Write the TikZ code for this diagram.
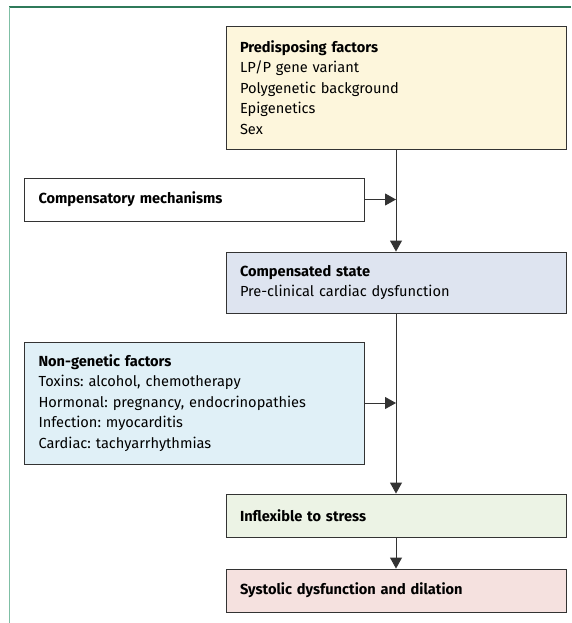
\documentclass[tikz,border=0pt]{standalone}
\usepackage{fontspec}
\setmainfont{Fira Sans}
\usepackage{xcolor}
\usetikzlibrary{arrows.meta}

\definecolor{framegreen}{HTML}{2F7A5A}
\definecolor{frameleft}{HTML}{7FBFA5}
\definecolor{boxline}{HTML}{333333}
\definecolor{preyellow}{HTML}{FDF6DC}
\definecolor{stategrey}{HTML}{DEE4F0}
\definecolor{envblue}{HTML}{E0F0F7}
\definecolor{stressgreen}{HTML}{ECF3E5}
\definecolor{failpink}{HTML}{F5E1DF}

\frenchspacing
\begin{document}
\begin{tikzpicture}[x=1pt, y=-1pt,
    box/.style={draw=boxline, line width=0.9pt, rectangle, align=left,
        inner xsep=14pt, inner ysep=0pt, text width=312pt,
        font=\fontsize{14.6}{20.5}\selectfont},
    flow/.style={draw=boxline, line width=0.9pt,
        -{Triangle[length=11pt,width=12pt]}}]
    \useasboundingbox (0,0) rectangle (571,623);

    \draw[framegreen, line width=1.2pt] (9,7) -- (571,7);
    \draw[frameleft, line width=1.8pt] (9.5,7) -- (9.5,623);

    \node[box, fill=preyellow, minimum height=123pt] (pre) at (396,87.5)
        {\textbf{Predisposing factors}\\LP/P gene variant\\Polygenetic background\\Epigenetics\\Sex};

    \node[box, fill=white, minimum height=43pt] (comp) at (194.5,199.5)
        {\textbf{Compensatory mechanisms}};

    \node[box, fill=stategrey, minimum height=61pt] (state) at (396,282.5)
        {\textbf{Compensated state}\\Pre-clinical cardiac dysfunction};

    \node[box, fill=envblue, minimum height=122pt] (env) at (194.5,403)
        {\textbf{Non-genetic factors}\\Toxins: alcohol, chemotherapy\\Hormonal: pregnancy, endocrinopathies\\Infection: myocarditis\\Cardiac: tachyarrhythmias};

    \node[box, fill=stressgreen, minimum height=43pt] (stress) at (396,515.5)
        {\textbf{Inflexible to stress}};

    \node[box, fill=failpink, minimum height=43pt] (fail) at (396,590.5)
        {\textbf{Systolic dysfunction and dilation}};

    \draw[flow] (pre.south) -- (state.north);
    \draw[flow] (comp.east) -- (comp.east -| pre.south);
    \draw[flow] (state.south) -- (stress.north);
    \draw[flow] (env.east) -- (env.east -| state.south);
    \draw[flow] (stress.south) -- (fail.north);
\end{tikzpicture}
\end{document}
